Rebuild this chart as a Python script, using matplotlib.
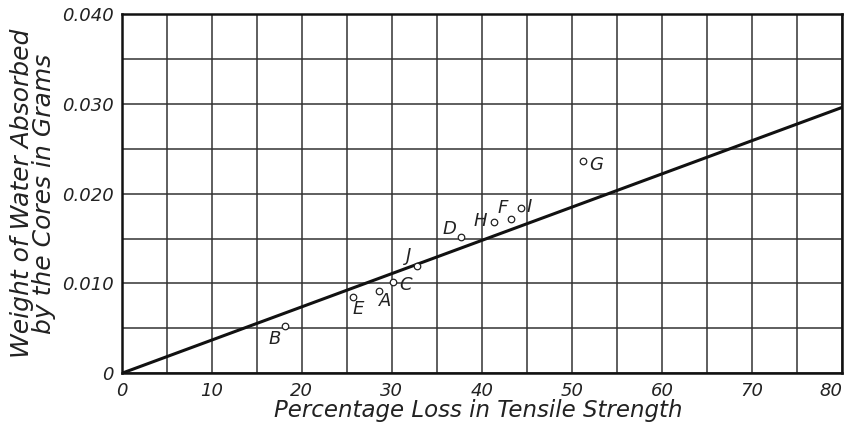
import matplotlib
matplotlib.use("Agg")
import matplotlib.pyplot as plt

# --- data ---
samples = ["A", "B", "C", "D", "E", "F", "G", "H", "I", "J"]
loss_pct = [28.6, 18.1, 30.1, 37.7, 25.7, 43.2, 51.2, 41.3, 44.3, 32.8]
water_g = [0.0092, 0.0053, 0.0102, 0.0152, 0.0085, 0.0172, 0.0236, 0.0168, 0.0184, 0.0120]

fit_x = [0, 80]
fit_y = [0, 0.0296]

xticks = [0, 10, 20, 30, 40, 50, 60, 70, 80]
yticks = [0, 0.010, 0.020, 0.030, 0.040]
ytick_labels = ["0", "0.010", "0.020", "0.030", "0.040"]

# label offsets in pixels (dx, dy), dy up
label_off = {
    "A": (6, -10), "B": (-10, -13), "C": (13, -3), "D": (-12, 8),
    "E": (5, -12), "F": (-8, 11), "G": (13, -4), "H": (-13, 1),
    "I": (9, 1), "J": (-8, 10),
}

font = dict(family="DejaVu Sans", style="italic", color="#222222")

fig = plt.figure(figsize=(8.46, 4.22), dpi=100)
ax = fig.add_axes([0.1439, 0.1154, 0.8514, 0.8514])

ax.set_xlim(0, 80)
ax.set_ylim(0, 0.040)

# grid every 5 % and every 0.005 g; labels only every 10 / 0.010
grid_x = list(range(0, 81, 5))
grid_y = [i * 0.005 for i in range(9)]
ax.set_xticks(grid_x)
ax.set_xticklabels([str(v) if v in xticks else "" for v in grid_x], fontsize=13, **font)
ax.set_yticks(grid_y)
ylab = dict(zip([round(v, 3) for v in yticks], ytick_labels))
ax.set_yticklabels([ylab.get(round(v, 3), "") for v in grid_y], fontsize=13, **font)
ax.xaxis.get_ticklabels()[-1].set_horizontalalignment("right")
ax.grid(True, color="#333333", linewidth=1.1)
ax.set_axisbelow(True)
ax.tick_params(length=0, pad=6)

for s in ax.spines.values():
    s.set_linewidth(1.8)
    s.set_color("#111111")

ax.plot(fit_x, fit_y, color="#111111", linewidth=2.2, zorder=3)
ax.scatter(loss_pct, water_g, s=22, facecolors="white", edgecolors="#222222",
           linewidths=0.9, zorder=4, clip_on=False)

for name, x, y in zip(samples, loss_pct, water_g):
    dx, dy = label_off[name]
    ax.annotate(name, (x, y), xytext=(dx, dy), textcoords="offset pixels",
                ha="center", va="center", fontsize=13, **font)

fig.text(0.5656, 0.012, "Percentage Loss in Tensile Strength", fontsize=16.5,
         ha="center", va="baseline", **font)
ax.set_ylabel("Weight of Water Absorbed\nby the Cores in Grams", fontsize=18,
              labelpad=4, linespacing=0.9, **font)

fig.savefig("out.png", dpi=100)
